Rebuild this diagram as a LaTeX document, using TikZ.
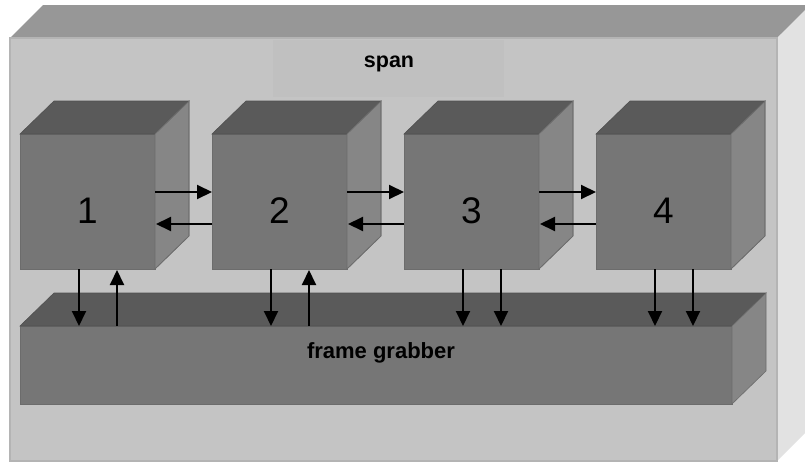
\documentclass[tikz,border=0pt]{standalone}
\usepackage{fontspec}
\setmainfont{Liberation Sans}
\usetikzlibrary{arrows.meta}
\definecolor{ofront}{RGB}{196,196,196}
\definecolor{otop}{RGB}{151,151,151}
\definecolor{oside}{RGB}{226,226,226}
\definecolor{oedge}{RGB}{180,180,180}
\definecolor{sbox}{RGB}{192,192,192}
\definecolor{cfront}{RGB}{118,118,118}
\definecolor{ctop}{RGB}{90,90,90}
\definecolor{cside}{RGB}{134,134,134}
\definecolor{cedge}{RGB}{108,108,108}
\tikzset{
  faceoutline/.style={inner sep=0pt, outer sep=0pt, line width=0.8pt},
  cubefront/.style={faceoutline, fill=cfront, draw=cedge, minimum width=135pt, minimum height=135pt},
  cubetop/.style={fill=ctop, draw=ctop!90!black, line width=0.6pt},
  cubeside/.style={fill=cside, draw=cedge, line width=0.6pt},
  arr/.style={-{Triangle[length=15pt,width=14pt]}, line width=2pt, black},
  numlabel/.style={anchor=base, inner sep=0pt, font=\fontsize{37}{40}\selectfont},
  boldlabel/.style={anchor=base, inner sep=0pt, font=\fontsize{21.5}{24}\selectfont\bfseries},
}
\begin{document}
\begin{tikzpicture}[x=1pt,y=-1pt]
\useasboundingbox (0,0) rectangle (805,463);
\clip (0,0) rectangle (805,463);
\fill[white] (0,0) rectangle (805,463);
% outer container
\fill[otop] (10,38) -- (43,5) -- (812,5) -- (777,38) -- cycle;
\fill[oside] (777,38) -- (812,3) -- (812,426) -- (777,461) -- cycle;
\node[faceoutline, fill=ofront, draw=oedge, line width=1.5pt, minimum width=767pt, minimum height=423pt] (outer) at (393.5,249.5) {};
\node[faceoutline, fill=sbox, minimum width=231pt, minimum height=57pt] (spanbox) at (388.5,68.5) {};
\node[boldlabel] (spanlabel) at (389,67) {span};
% cubes
\foreach \i in {1,...,4}{
  \node[cubefront] (c\i) at ({87.5+192*(\i-1)},201.5) {};
  \fill[cubetop] (c\i.north west) -- ++(34,-33) -- ++(135,0) -- (c\i.north east) -- cycle;
  \fill[cubeside] (c\i.north east) -- ++(34,-33) -- ++(0,135) -- (c\i.south east) -- cycle;
  \draw[cubeside, fill=none] (c\i.north east) -- ++(34,-33) -- ++(0,135) -- (c\i.south east);
  \node[numlabel] (n\i) at ({87.5+192*(\i-1)},223) {\i};
}
% frame grabber
\node[faceoutline, fill=cfront, draw=cedge, minimum width=712pt, minimum height=78pt] (fg) at (376,365) {};
\fill[cubetop] (fg.north west) -- ++(34,-33) -- ++(712,0) -- (fg.north east) -- cycle;
\fill[cubeside] (fg.north east) -- ++(34,-33) -- ++(0,78) -- (fg.south east) -- cycle;
\node[boldlabel, font=\fontsize{22}{24}\selectfont\bfseries] (fglabel) at (381,358) {frame grabber};
% horizontal arrows
\foreach \i/\j in {1/2,2/3,3/4}{
  \draw[arr] (c\i.east |- 0,192) -- (c\j.west |- 0,192);
  \draw[arr] (c\j.west |- 0,224) -- ([xshift=1pt]c\i.east |- 0,224);
}
% vertical arrows
\foreach \i in {1,...,4}{
  \coordinate (d\i) at ([xshift=59pt]c\i.south west);
  \coordinate (u\i) at ([xshift=97pt]c\i.south west);
  \draw[arr] (d\i) -- (d\i |- fg.north);
}
\draw[arr] (u1 |- fg.north) -- ([yshift=-1pt]u1);
\draw[arr] (u2 |- fg.north) -- ([yshift=-1pt]u2);
\draw[arr] (u3) -- (u3 |- fg.north);
\draw[arr] (u4) -- (u4 |- fg.north);
\end{tikzpicture}
\end{document}
